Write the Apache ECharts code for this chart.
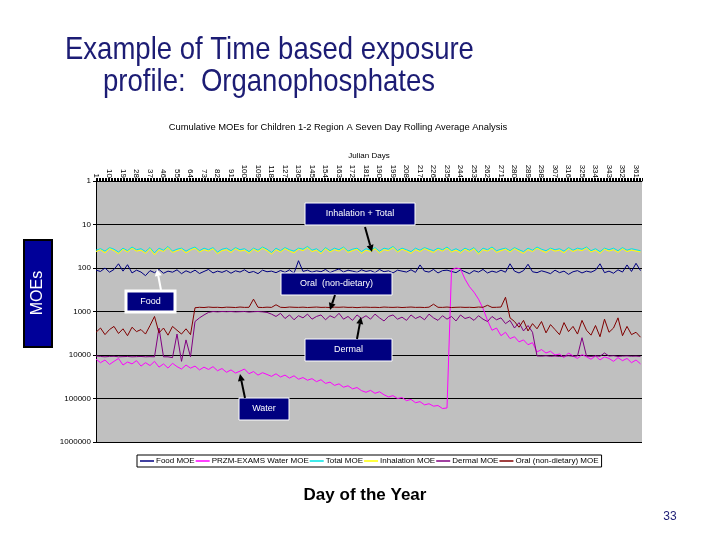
<!DOCTYPE html>
<html><head><meta charset="utf-8">
<script src="https://cdn.jsdelivr.net/npm/echarts@6/dist/echarts.min.js"></script>
<style>html,body{margin:0;padding:0;background:#fff}#c{width:720px;height:540px}</style>
</head><body><div id="c"></div>
<script>
// Julian day sample points
const days = [1,4,7,10,13,16,19,22,25,28, 31,34,37,40,43,46,49,52,55,58,
  61,64,67,70,73,76,79,82,85,88, 91,94,97,100,103,106,109,112,115,118,
  121,124,127,130,133,136,139,142,145,148, 151,154,157,160,163,166,169,172,175,178,
  181,184,187,190,193,196,199,202,205,208, 211,214,217,220,223,226,229,232,235,238,
  241,244,247,250,253,256,259,262,265,268, 271,274,277,280,283,286,289,292,295,298,
  301,304,307,310,313,316,319,322,325,328, 331,334,337,340,343,346,349,352,355,358,
  361,364];

const xTickLabels = [1,10,19,28,37,46,55,64,73,82,91,100,109,118,127,136,145,154,163,172,181,190,199,208,217,226,235,244,253,262,271,280,289,298,307,316,325,334,343,352,361];
const yTickLabels = ['1','10','100','1000','10000','100000','1000000'];

const foodMOE = [112,120,100,125,108,80,118,84,130,112,
  124,150,115,128,108,132,118,125,110,135,
  116,128,112,134,120,108,130,118,126,114,
  132,116,124,110,128,120,135,112,122,118,
  128,114,126,110,132,68,120,112,125,116,
  122,108,128,115,105,124,112,118,126,110,
  120,114,128,108,122,116,130,112,118,124,
  110,126,85,118,124,108,130,115,112,120,
  128,110,122,135,115,124,108,130,118,126,
  112,125,80,118,130,115,82,122,128,116,
  124,135,112,128,118,140,122,115,130,118,
  125,112,80,128,118,132,110,124,85,120,
  78,115];

const waterMOE = [12500,15000,13000,16500,14000,12000,17000,14500,16000,13500,
  18000,15000,17500,14000,19000,16000,20000,15500,18500,21000,
  17000,20000,18000,22000,19000,21500,18500,23000,20500,25000,
  22000,26000,23500,21000,27000,24000,29000,25500,28000,31000,
  27000,32000,29000,34000,30000,36000,33000,38000,35000,41000,
  37000,45000,42000,50000,46000,55000,51000,60000,56000,66000,
  72000,65000,76000,70000,82000,92000,86000,100000,95000,112000,
  105000,125000,118000,140000,132000,150000,145000,170000,165000,110,
  100,105,180,270,360,520,850,1600,2700,2400,
  3600,3000,4200,3800,5000,4500,5800,5200,8500,7500,
  9000,8200,10000,9500,11500,9000,10500,12000,9800,11000,
  12500,10500,13000,11000,12000,14000,11500,13500,12000,15000,
  13000,16000];

const totalMOE = [39,36,41,34,37,43,35,40,33,38,
  36,42,34,45,35,39,32,41,37,35,
  41,36,33,40,35,38,34,43,37,35,
  40,34,38,36,42,35,39,33,37,44,
  35,40,34,38,41,35,37,32,39,36,
  43,34,40,35,38,33,41,37,35,42,
  36,39,34,41,35,37,32,40,35,38,
  42,35,39,34,37,40,35,38,33,40,
  36,41,35,39,34,44,35,38,33,40,
  37,35,40,34,38,42,35,39,33,37,
  40,35,38,36,41,34,39,35,37,33,
  40,36,42,35,38,35,40,34,39,36,
  38,40];

const inhalationMOE = [42,38,45,36,40,47,37,43,35,41,
  39,46,36,50,38,42,34,44,40,37,
  45,39,35,43,38,41,36,47,40,38,
  44,36,41,39,46,37,42,35,40,48,
  38,43,36,41,45,37,40,34,42,39,
  47,36,43,38,41,35,44,40,37,46,
  39,42,36,45,38,40,34,43,37,41,
  46,38,42,36,40,44,37,41,35,43,
  39,45,37,42,36,48,38,41,35,44,
  40,37,43,36,41,46,38,42,35,40,
  44,37,41,39,45,36,42,38,40,35,
  43,39,46,37,41,38,44,36,42,39,
  41,43];

const dermalMOE = [10500,10800,11000,10800,10700,11000,10900,10800,11000,10900,
  10800,11000,10900,11000,2400,11000,11000,11500,3300,14000,
  4500,11000,1700,1400,1200,1050,1000,1020,1000,1010,
  1000,1020,1010,1000,1030,1010,1000,1020,1050,1150,
  1300,1100,1450,1200,1550,1250,1400,1150,1500,1300,
  1200,1550,1250,1400,1100,1500,1300,1600,1200,1450,
  1250,1500,1150,1400,1650,1300,1200,1500,1350,1600,
  1200,1450,1300,1550,1150,1400,1600,1250,1500,1300,
  1650,1200,1450,1350,1600,1250,1500,1700,1300,1550,
  1400,1900,1600,2400,1800,2800,2100,3000,10500,10600,
  10400,10700,10500,10800,10600,10400,10700,10500,4000,10600,
  10800,10500,10700,9000,10600,10400,10800,10600,10500,10700,
  10600,10800];

const oralMOE = [3000,2400,3400,2600,2200,3200,2500,3600,2300,2900,
  2600,3300,2100,1300,3100,2400,3500,2200,2700,3300,
  2500,3400,820,800,810,790,805,800,815,795,
  800,810,790,805,800,520,800,810,795,805,
  700,800,810,790,800,805,795,810,800,790,
  805,800,810,795,800,790,805,800,815,800,
  795,805,800,810,790,800,805,795,810,800,
  790,805,800,810,795,680,800,805,790,810,
  800,795,805,800,810,790,800,720,805,800,
  790,470,1400,1700,2300,1600,2800,1900,2500,1700,
  3100,2000,2600,3400,1800,2900,2200,3300,1600,2700,
  3500,2100,3800,1500,3000,2400,1400,3600,2200,3400,
  3000,3900];

const seriesDefs = [
  ['Food MOE', foodMOE, '#000080'],
  ['PRZM-EXAMS Water MOE', waterMOE, '#FF00FF'],
  ['Total MOE', totalMOE, '#00E5E5'],
  ['Inhalation MOE', inhalationMOE, '#FFFF00'],
  ['Dermal MOE', dermalMOE, '#800080'],
  ['Oral (non-dietary) MOE', oralMOE, '#800000']
];

function arrow(x1, y1, x2, y2, color) {
  const a = Math.atan2(y2 - y1, x2 - x1), L = 7, W = 3.5;
  const bx = x2 - L * Math.cos(a), by = y2 - L * Math.sin(a);
  return [
    {type: 'line', shape: {x1: x1, y1: y1, x2: bx, y2: by}, style: {stroke: color, lineWidth: 2}, z: 100},
    {type: 'polygon', shape: {points: [[x2, y2], [bx + W * Math.sin(a), by - W * Math.cos(a)], [bx - W * Math.sin(a), by + W * Math.cos(a)]]}, style: {fill: color}, z: 100}
  ];
}
function box(x, y, w, h, text, bw) {
  return [
    {type: 'rect', shape: {x: x, y: y, width: w, height: h}, style: {fill: '#000080', stroke: '#ffffff', lineWidth: bw}, z: 100},
    {type: 'text', x: x + w / 2, y: y + h / 2, z: 101,
     style: {text: text, fill: '#ffffff', font: '9px Arial, "Liberation Sans"', align: 'center', verticalAlign: 'middle', textAlign: 'center', textVerticalAlign: 'middle'}}
  ];
}
function txt(x, y, text, font, color, align, extra) {
  return Object.assign({type: 'text', x: x, y: y, z: 100,
    style: {text: text, fill: color, font: font, align: align, verticalAlign: 'middle', textAlign: align, textVerticalAlign: 'middle'}}, extra || {});
}

const titleShadow = {textShadowColor: '#a8a8b8', textShadowOffsetX: 2, textShadowOffsetY: 2, textShadowBlur: 0};
const t1 = txt(65, 50, 'Example of Time based exposure', '32px "Liberation Sans", Arial', '#1c1c74', 'left', {scaleX: 0.86});
Object.assign(t1.style, titleShadow);
const t2 = txt(103, 82, 'profile:  Organophosphates', '32px "Liberation Sans", Arial', '#1c1c74', 'left', {scaleX: 0.86});
Object.assign(t2.style, titleShadow);

const graphics = [].concat(
  [t1, t2,
   txt(338, 127, 'Cumulative MOEs for Children 1-2 Region A Seven Day Rolling Average Analysis', '9.4px Arial, "Liberation Sans"', '#000', 'center'),
   txt(365, 495, 'Day of the Year', 'bold 17px Arial, "Liberation Sans"', '#000', 'center'),
   txt(670, 517, '33', '12px Arial, "Liberation Sans"', '#1c1c74', 'center'),
   {type: 'rect', shape: {x: 24, y: 240, width: 28, height: 107}, style: {fill: '#000099', stroke: '#000', lineWidth: 2}, z: 100},
   txt(38, 293, 'MOEs', '16px Arial, "Liberation Sans"', '#fff', 'center', {rotation: Math.PI / 2})
  ],
  box(305, 203, 110, 22, 'Inhalation + Total', 1),
  box(281, 273, 111, 22, 'Oral  (non-dietary)', 1),
  box(126, 291, 49, 21, 'Food', 3),
  box(305, 339, 87, 22, 'Dermal', 1),
  box(239, 398, 50, 22, 'Water', 1),
  arrow(365, 227, 372, 252, '#000'),
  arrow(335, 295, 330, 310, '#000'),
  arrow(161, 290, 157, 269, '#fff'),
  arrow(357, 339, 361, 317, '#000'),
  arrow(245, 398, 240, 374, '#000')
);

const chart = echarts.init(document.getElementById('c'));
chart.setOption({
  animation: false,
  backgroundColor: '#fff',
  grid: {left: 96, right: 78, top: 181, bottom: 98, show: true, backgroundColor: '#C0C0C0', borderWidth: 0},
  legend: {
    left: 137, top: 455, backgroundColor: '#fff', borderColor: '#000', borderWidth: 1,
    padding: [2, 3], itemGap: 1, itemWidth: 14, itemHeight: 1.5, icon: 'rect',
    textStyle: {fontSize: 8, fontFamily: 'Arial, "Liberation Sans"', color: '#000', padding: [0, 0, 0, -3]},
    data: seriesDefs.map(s => s[0])
  },
  xAxis: {
    type: 'value', position: 'top', min: 1, max: 365, interval: 9,
    name: 'Julian Days', nameLocation: 'middle', nameGap: 21,
    nameTextStyle: {fontSize: 8, fontFamily: 'Arial, "Liberation Sans"', color: '#000'},
    axisLine: {show: true, lineStyle: {color: '#000', width: 1}},
    axisTick: {show: true, length: 3, lineStyle: {color: '#000'}},
    minorTick: {show: true, splitNumber: 9, length: 3, lineStyle: {color: '#000'}},
    splitLine: {show: false},
    axisLabel: {rotate: 90, fontSize: 8, margin: 3, color: '#000', fontFamily: 'Arial, "Liberation Sans"',
      showMaxLabel: false,
      formatter: v => xTickLabels.indexOf(Math.round(v)) >= 0 ? String(Math.round(v)) : ''}
  },
  yAxis: {
    type: 'log', logBase: 10, min: 1, max: 1000000, inverse: true, splitNumber: 6,
    axisLine: {show: true, lineStyle: {color: '#000'}},
    axisTick: {show: true, length: 3, lineStyle: {color: '#000'}},
    splitLine: {show: true, lineStyle: {color: '#000', width: 1}},
    axisLabel: {fontSize: 8, margin: 5, color: '#000', fontFamily: 'Arial, "Liberation Sans"',
      formatter: v => { const s = String(Math.round(v)); return yTickLabels.indexOf(s) >= 0 ? s : ''; }}
  },
  series: seriesDefs.map(s => ({
    name: s[0], type: 'line', symbol: 'none', showSymbol: false,
    data: days.map((d, i) => [d, s[1][i]]),
    lineStyle: {color: s[2], width: 1}, itemStyle: {color: s[2]}
  })),
  graphic: graphics
});
</script></body></html>
